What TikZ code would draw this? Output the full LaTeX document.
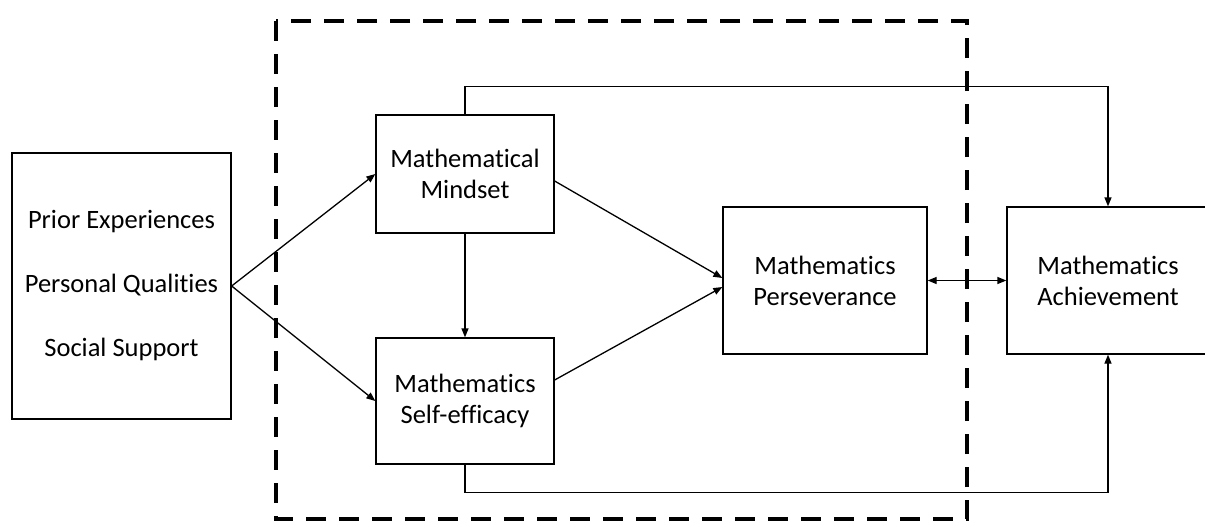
\documentclass[tikz,border=0pt]{standalone}
\usepackage{fontspec}
\setmainfont{Carlito}[Ligatures=NoCommon]
\usetikzlibrary{arrows.meta}

\tikzset{
	box/.style={draw,line width=1.3pt,align=center,inner sep=0pt,
		font=\fontsize{26.5}{31}\selectfont},
	link/.style={line width=1.3pt,-{Triangle[length=9pt,width=7pt]}},
	dashbox/.style={line width=4pt,dash pattern=on 20pt off 13pt}
}

\begin{document}
\begin{tikzpicture}[x=1pt,y=-1pt]
	
	% ---- 画布 ----
	\useasboundingbox (0,0) rectangle (1205,522);
	
	% ---- 虚线框 ----
	\draw[dashbox] (276,21) rectangle (967,519);
	
	% ---- 方框 ----
	\node[box,minimum width=219pt,minimum height=266pt,
		font=\fontsize{26.5}{64}\selectfont] (inp) at (121.5,286)
		{Prior Experiences\\Personal Qualities\\Social Support};
	\node[box,minimum width=178pt,minimum height=118pt] (mind) at (465,174)
		{Mathematical\\Mindset};
	\node[box,minimum width=178pt,minimum height=126pt] (self) at (465,401)
		{Mathematics\\Self-efficacy};
	\node[box,minimum width=204pt,minimum height=147pt] (pers) at (825,280.5)
		{Mathematics\\Perseverance};
	\node[box,minimum width=202pt,minimum height=147pt] (ach) at (1108,280.5)
		{Mathematics\\Achievement};
	
	% ---- 箭头 ----
	\draw[link] (inp.east) -- (mind.west);
	\draw[link] (inp.east) -- (self.west);
	\draw[link] (mind.south) -- (self.north);
	\draw[link] ([yshift=-7pt]mind.east) -- ([yshift=2.5pt]pers.west);
	\draw[link] ([yshift=21pt]self.east) -- ([yshift=-6.5pt]pers.west);
	\draw[link,{Triangle[length=9pt,width=7pt]}-{Triangle[length=9pt,width=7pt]}]
		(pers.east) -- (ach.west);
	
	% ---- 绕行连线 ----
	\draw[link] (mind.north) -- ++(0,-28) -| (ach.north);
	\draw[link] (self.south) -- ++(0,28) -| (ach.south);
	
\end{tikzpicture}
\end{document}
